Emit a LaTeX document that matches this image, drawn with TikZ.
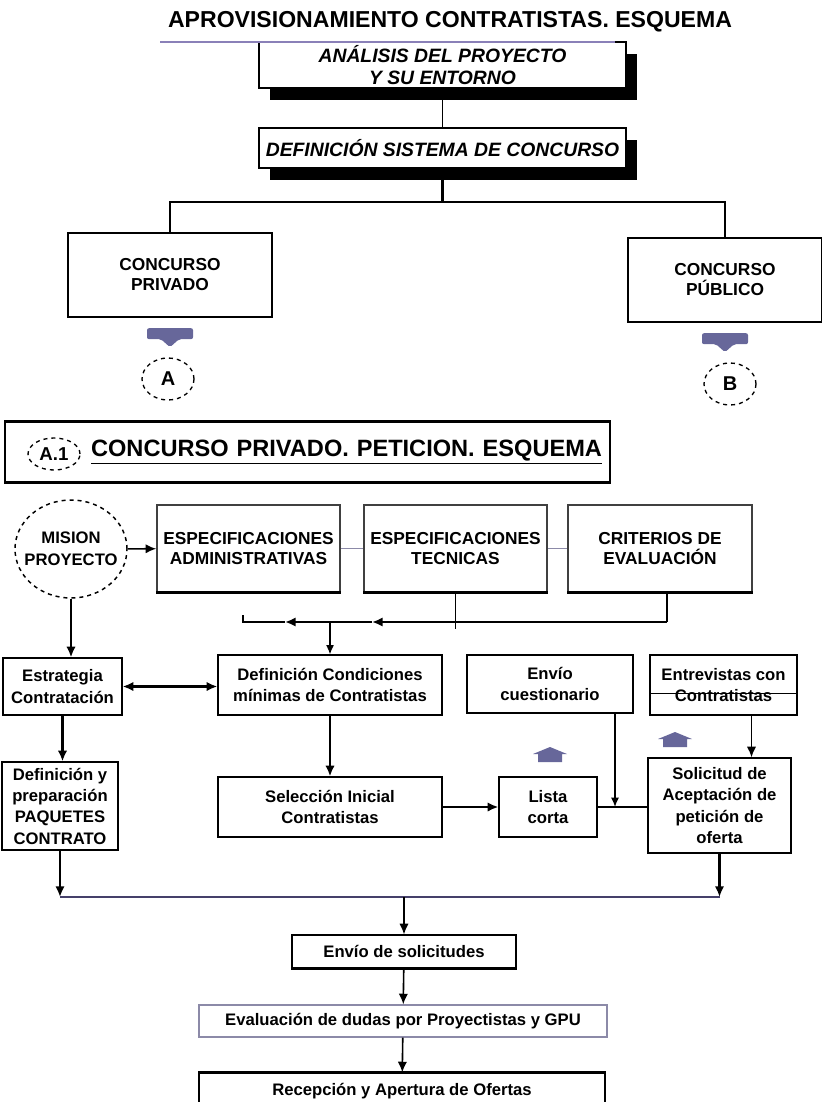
\documentclass[tikz,border=0pt]{standalone}
\usepackage{fontspec}
\setmainfont{Liberation Sans}
\usepackage{xcolor}
\usetikzlibrary{arrows.meta,calc,shadows,shapes.geometric}

\definecolor{lila}{HTML}{8A80B8}
\definecolor{pizarra}{HTML}{67679A}
\definecolor{grisazul}{HTML}{8C8AA8}
\definecolor{oscuro}{HTML}{45406A}

\begin{document}
\begin{tikzpicture}[>=Latex, thick, x=0.75pt, y=-0.75pt,
  caja/.style={draw, fill=white, align=center, line width=0.9pt, inner sep=1pt,
    font=\bfseries\fontsize{12.5}{16}\selectfont},
  cajasup/.style={caja, font=\bfseries\itshape\fontsize{14.5}{17}\selectfont,
    drop shadow={shadow xshift=8pt, shadow yshift=-9pt, opacity=1, fill=black}},
  cajaconc/.style={caja, line width=1.8pt, font=\bfseries\fontsize{13}{15}\selectfont},
  cajaesp/.style={caja, draw=black!75, line width=1.2pt, font=\bfseries\fontsize{13}{15}\selectfont},
  letra/.style={draw, ellipse, dashed, line width=1pt, inner sep=0pt, fill=white,
    minimum width=52*\px, minimum height=42*\px, font=\bfseries\fontsize{15}{15}\selectfont},
  flecha/.style={-{Latex[length=8pt,width=7pt]}, line width=1.6pt},
  flechita/.style={-{Latex[length=7pt,width=6pt]}, line width=1pt},
  bloque/.style={fill=pizarra}]
  \def\px{0.75pt}
  \useasboundingbox (0,0) rectangle (821,1102);

  % parte superior
  \node[font=\bfseries\fontsize{17.3}{20}\selectfont] (titulo) at (450,22)
    {APROVISIONAMIENTO CONTRATISTAS. ESQUEMA};
  \node[cajasup, minimum width=367*\px, minimum height=46*\px] (ana) at (442.5,65)
    {ANÁLISIS DEL PROYECTO\\Y SU ENTORNO};
  \draw[lila, line width=1.6pt] (160,42) -- (615,42);
  \node[cajasup, minimum width=367*\px, minimum height=40*\px] (sis) at (442.5,148)
    {DEFINICIÓN SISTEMA DE CONCURSO};
  \draw[line width=1.4pt] (ana) -- (sis);

  \node[cajaconc, minimum width=204*\px, minimum height=84*\px] (priv) at (170,275)
    {CONCURSO\\PRIVADO};
  \node[cajaconc, minimum width=194*\px, minimum height=84*\px] (pub) at (725,280)
    {CONCURSO\\PÚBLICO};
  \coordinate (barra) at (168,202);
  \draw[line width=2.2pt] (sis.south) -- (sis.south |- barra);
  \draw[line width=2.2pt] (priv.north) -- (priv.north |- barra) -- (pub.north |- barra) -- (pub.north);

  \foreach \n in {priv,pub}
    \fill[bloque, rounded corners=1.5pt] ($(\n.south)+(0,10)$) ++(-23,0) -- ++(46,0) -- ++(0,11) -- ++(-14,0)
      -- ++(-9,8) -- ++(-9,-8) -- ++(-14,0) -- cycle;
  \node[letra] (A) at (168,379) {A};
  \node[letra] (B) at (730,384) {B};

  % A.1 concurso privado
  \node[draw, line width=1.6pt, minimum width=605*\px, minimum height=61*\px,
    text width=589*\px, align=right, font=\bfseries\fontsize{17.7}{18}\selectfont] (cab) at (307.5,452)
    {\underline{CONCURSO PRIVADO. PETICION. ESQUEMA}};
  \node[letra, minimum width=52*\px, minimum height=32*\px, font=\bfseries\fontsize{14}{14}\selectfont]
    (a1) at (54,454) {A.1};

  \node[draw, ellipse, dashed, line width=1.1pt, inner xsep=-8pt, inner ysep=0pt,
    minimum width=112*\px, minimum height=98*\px, align=center,
    font=\bfseries\fontsize{12.5}{16.5}\selectfont] (mision) at (71,549) {MISION\\PROYECTO};
  \node[cajaesp, minimum width=183*\px, minimum height=87*\px] (adm) at (248.5,548.5)
    {ESPECIFICACIONES\\ADMINISTRATIVAS};
  \node[cajaesp, minimum width=183*\px, minimum height=87*\px] (tec) at (455.5,548.5)
    {ESPECIFICACIONES\\TECNICAS};
  \node[cajaesp, minimum width=184*\px, minimum height=87*\px] (cri) at (660,548.5)
    {CRITERIOS DE\\EVALUACIÓN};
  \foreach \n in {adm,tec,cri}
    \draw[line width=2pt] (\n.south west) -- (\n.south east);
  \draw[flecha, line width=1.2pt] (mision) -- (adm);
  \draw[grisazul, line width=1.4pt] (adm) -- (tec);
  \draw[grisazul, line width=1.4pt] (tec) -- (cri);

  % llave bajo las especificaciones
  \coordinate (llaveI) at (243,622);
  \coordinate (llaveD) at (667,622);
  \draw[line width=1.8pt] (cri.south -| llaveD) -- (llaveD);
  \draw[line width=1.8pt, -{Latex[length=8pt,width=7pt]}] (llaveD) -- (372,622);
  \draw[line width=1.8pt, -{Latex[length=8pt,width=7pt]}] (372,622) -- (285,622);
  \draw[line width=1.8pt] (285,622) -- (llaveI) -- ++(0,-7);
  \draw[line width=1.4pt] (tec.south) -- ++(0,36);

  \node[caja, minimum width=119*\px, minimum height=57*\px] (estr) at (62.5,686.5)
    {Estrategia\\Contratación};
  \node[caja, minimum width=224*\px, minimum height=60*\px] (defc) at (330,685)
    {Definición Condiciones\\mínimas de Contratistas};
  \node[caja, minimum width=166*\px, minimum height=58*\px] (cues) at (550,684)
    {Envío\\cuestionario};
  \node[caja, minimum width=147*\px, minimum height=60*\px] (entr) at (723.5,685)
    {Entrevistas con\\Contratistas};
  \draw[line width=0.9pt] ($(entr.south west)+(0,-22)$) -- ($(entr.south east)+(0,-22)$);
  \draw[flechita] (defc.north |- llaveI) -- (defc.north);
  \draw[flecha, line width=2.2pt] (mision.south) -- (mision.south |- estr.north);
  \draw[{Latex[length=8pt,width=7pt]}-{Latex[length=8pt,width=7pt]}, line width=1.8pt]
    (estr.east) -- (estr.east -| defc.west);

  % fila de seleccion
  \node[caja, minimum width=116*\px, minimum height=88*\px] (paq) at (60,806)
    {Definición y\\preparación\\PAQUETES\\CONTRATO};
  \node[caja, minimum width=224*\px, minimum height=60*\px] (sel) at (330,807)
    {Selección Inicial\\Contratistas};
  \node[caja, minimum width=98*\px, minimum height=60*\px] (lista) at (548,807)
    {Lista\\corta};
  \node[caja, minimum width=143*\px, minimum height=95*\px] (soli) at (719.5,805.5)
    {Solicitud de\\Aceptación de\\petición de\\oferta};
  \foreach \cx/\cy in {550/747,675/732}
    \fill[bloque] (\cx,\cy) -- ++(17,7) -- ++(-5,0) -- ++(0,8) -- ++(-24,0) -- ++(0,-8)
      -- ++(-5,0) -- cycle;
  \coordinate (cruce) at (615,807);
  \draw[flecha] (estr.south) -- (estr.south |- paq.north);
  \draw[flecha, line width=2.2pt] (defc) -- (sel);
  \draw[flecha, line width=2.2pt] (sel) -- (lista);
  \draw[flechita, line width=1.2pt] (cues.south -| cruce) -- (cruce);
  \draw[line width=1.2pt] (lista.east |- cruce) -- (soli.west |- cruce);
  \draw[flecha, line width=1.4pt] ([xshift=28*\px]entr.south) -- ([xshift=28*\px]entr.south |- soli.north);

  % parte inferior
  \coordinate (union) at (60,897);
  \draw[flecha] (paq.south) -- (paq.south |- union);
  \draw[flecha] (soli.south) -- (soli.south |- union);
  \draw[oscuro, line width=1.6pt] (union) -- (soli.south |- union);
  \node[caja, minimum width=224*\px, minimum height=33*\px] (envs) at (404,951.5)
    {Envío de solicitudes};
  \draw[line width=2.6pt] (envs.south west) -- (envs.south east);
  \node[caja, draw=grisazul, minimum width=408*\px, minimum height=32*\px] (eval) at (403,1021)
    {Evaluación de dudas por Proyectistas y GPU};
  \node[caja, minimum width=406*\px, minimum height=37*\px] (rec) at (402,1091.5)
    {Recepción y Apertura de Ofertas};
  \draw[line width=2.6pt] (rec.north west) -- (rec.north east);
  \draw[flecha, line width=1.2pt] (envs.north |- union) -- (envs.north);
  \draw[flecha, line width=1.2pt] (envs) -- (eval);
  \draw[flecha, line width=1.2pt] (eval) -- (rec);
\end{tikzpicture}
\end{document}
